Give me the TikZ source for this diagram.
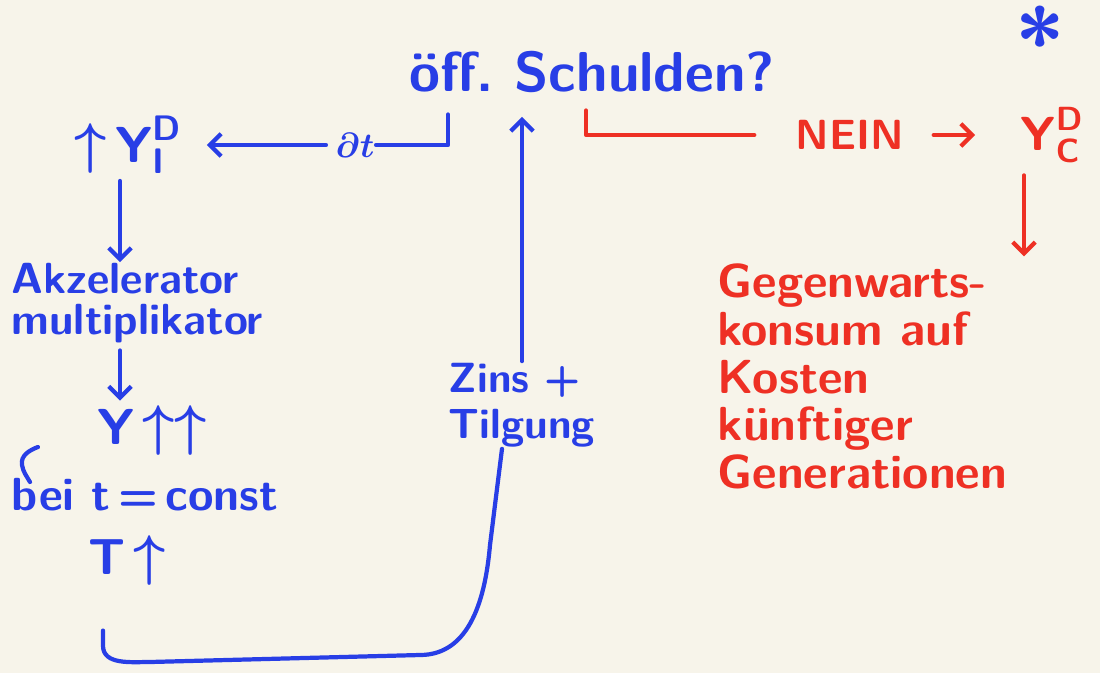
\documentclass[tikz,border=0pt]{standalone}
\usepackage{amsmath,amssymb}
\usepackage{tikz}
\usetikzlibrary{arrows.meta}
\usetikzlibrary{positioning}

\definecolor{tafel}{RGB}{247,244,234}
\definecolor{stift}{RGB}{40,62,230}
\definecolor{rotstift}{RGB}{238,48,36}

\newcommand{\hoch}{\scalebox{1.6}{$\uparrow$}}

\tikzset{
  notiz/.style={text=stift, inner sep=1pt, font=\fontsize{30}{33}\selectfont\sffamily\bfseries\boldmath},
  grossnotiz/.style={notiz, font=\fontsize{36}{40}\selectfont\sffamily\bfseries\boldmath},
  rotnotiz/.style={notiz, text=rotstift},
  strich/.style={draw=stift, line width=3pt, line cap=round, line join=round},
  rotstrich/.style={strich, draw=rotstift},
  pfeil/.style={strich, -{Straight Barb[length=8pt,width=16pt]}},
  rotpfeil/.style={pfeil, draw=rotstift}
}

\begin{document}
\begin{tikzpicture}[x=0.025cm, y=-0.025cm]
    \fill[tafel] (0,0) rectangle (1100,673);

    % blaue Notizen
    \node[notiz, anchor=west, font=\fontsize{40}{44}\selectfont\sffamily\bfseries] (schulden) at (408,72) {öff.\ Schulden?};
    \node[notiz, font=\fontsize{64}{64}\selectfont\sffamily\bfseries] (stern) at (1040,40) {*};
    \node[grossnotiz] (yi) at (128,145) {\hoch\,$\text{Y}^{\text{D}}_{\text{I}}$};
    \node[notiz] (dt) at (355,145) {$\partial t$};
    \node[notiz, align=left, anchor=north west, font=\fontsize{31}{29}\selectfont\sffamily\bfseries] (akz) at (10,262) {Akzelerator\\multiplikator};
    \node[grossnotiz] (ypp) at (152,430) {Y\,\hoch\hoch};
    \node[notiz, anchor=west, font=\fontsize{33}{36}\selectfont\sffamily\bfseries] (bei) at (10,495) {bei t\,=\,const};
    \node[grossnotiz] (tt) at (127,560) {T\,\hoch};
    \node[notiz, align=left] (zins) at (522,405) {Zins +\\Tilgung};

    % rote Notizen
    \node[rotnotiz] (nein) at (850,135) {NEIN};
    \node[rotnotiz, font=\fontsize{34}{38}\selectfont\sffamily\bfseries\boldmath] (yc) at (1052,135) {$\text{Y}^{\text{D}}_{\text{C}}$};
    \node[rotnotiz, align=left, anchor=north west, font=\fontsize{34}{34}\selectfont\sffamily\bfseries] (gegen) at (716,262) {Gegenwarts-\\konsum auf\\Kosten\\künftiger\\Generationen};

    % blaue Pfeile
    \draw[pfeil, shorten <=0.2cm, shorten >=0.6cm] (dt.west) -- (yi.east |- dt.west);
    \draw[strich] ([xshift=1cm,yshift=-0.5cm]schulden.south west) |- (dt.east);
    \draw[pfeil, shorten <=4pt] ([xshift=-0.2cm]yi.south) -- ([xshift=-0.2cm]yi.south |- akz.north);
    \draw[pfeil, shorten <=4pt, shorten >=2pt] ([xshift=-0.2cm]akz.south -| yi.south) -- ([xshift=-0.2cm]ypp.north -| yi.south);
    \draw[strich] (38,447) to[out=200,in=100] (22,465) to[out=-80,in=120] (30,482);
    \draw[pfeil, shorten >=16pt] (zins.north) -- (zins.north |- schulden.south);
    \draw[strich] ([xshift=-0.6cm,yshift=-1.1cm]tt.south) -- ++(0,15) to[out=-90,in=180] (150,662)
        -- (420,655) to[out=0,in=-95] (490,545) -- ([xshift=-0.5cm]zins.south);

    % rote Pfeile
    \draw[rotstrich, shorten >=1cm] ([xshift=4.45cm,yshift=-0.4cm]schulden.south west) |- (nein.west);
    \draw[rotpfeil, shorten <=0.7cm, shorten >=1.1cm] (nein.east) -- (yc.west);
    \draw[rotpfeil, shorten <=8pt, shorten >=4pt] ([xshift=-0.7cm]yc.south) -- ([xshift=-0.7cm]yc.south |- gegen.north);
\end{tikzpicture}
\end{document}
